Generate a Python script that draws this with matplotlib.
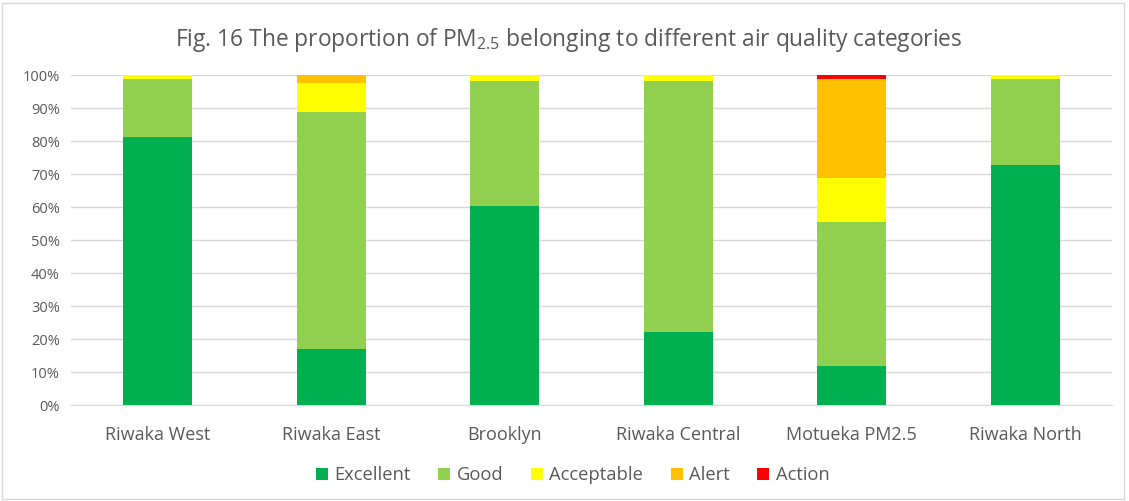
import matplotlib
matplotlib.use("Agg")
import matplotlib.pyplot as plt
from matplotlib.patches import Rectangle
from matplotlib.ticker import PercentFormatter
import numpy as np

# -----------------------
# Data (percent of time)
# -----------------------
sites = ["Riwaka West", "Riwaka East", "Brooklyn", "Riwaka Central", "Motueka PM2.5", "Riwaka North"]
categories = ["Excellent", "Good", "Acceptable", "Alert", "Action"]
colors = ["#00B050", "#92D050", "#FFFF00", "#FFC000", "#FF0000"]

excellent = [81.2, 17.0, 60.3, 22.1, 11.8, 72.7]
good = [17.6, 71.8, 37.9, 76.1, 43.7, 26.2]
acceptable = [1.2, 8.8, 1.8, 1.8, 13.3, 1.1]
alert = [0.0, 2.4, 0.0, 0.0, 29.9, 0.0]
action = [0.0, 0.0, 0.0, 0.0, 1.3, 0.0]

series = [excellent, good, acceptable, alert, action]

FONT = "Open Sans"
TXT = "#595959"
plt.rcParams["font.family"] = [FONT, "DejaVu Sans"]
plt.rcParams["mathtext.fontset"] = "custom"
plt.rcParams["mathtext.rm"] = FONT
plt.rcParams["mathtext.it"] = FONT

fig = plt.figure(figsize=(11.29, 5.01), dpi=100)
ax = fig.add_axes([0.0629, 0.1916, 0.922, 0.6584])

# chart border
fig.patches.append(Rectangle((0.002, 0.004), 0.994, 0.99, transform=fig.transFigure,
                             fill=False, edgecolor="#D9D9D9", linewidth=1))

x = np.arange(len(sites))
bottom = np.zeros(len(sites))
for name, vals, col in zip(categories, series, colors):
    vals = np.array(vals)
    ax.bar(x, vals, width=0.4, bottom=bottom, color=col, label=name, zorder=3)
    bottom += vals

ax.set_xlim(-0.5, len(sites) - 0.5)
ax.set_ylim(0, 100)
ax.set_yticks(np.arange(0, 101, 10))
ax.yaxis.set_major_formatter(PercentFormatter(decimals=0))
ax.set_xticks(x)
ax.set_xticklabels(sites)
ax.tick_params(axis="both", length=0, colors=TXT)
ax.tick_params(axis="x", labelsize=13, pad=15)
ax.tick_params(axis="y", labelsize=10.5, pad=8)

ax.grid(axis="y", color="#D9D9D9", linewidth=1, zorder=0)
for s in ["top", "right", "left"]:
    ax.spines[s].set_visible(False)
ax.spines["bottom"].set_color("#D9D9D9")

fig.text(0.504, 0.92, "Fig. 16 The proportion of PM$_{2.5}$ belonging to different air quality categories",
         ha="center", va="center", fontsize=16.4, color=TXT)

ax.legend(loc="center", bbox_to_anchor=(0.482, -0.213), ncol=5, frameon=False,
          fontsize=13.2, handlelength=0.65, handleheight=0.65, handletextpad=0.35,
          columnspacing=1.5, labelcolor=TXT)

fig.savefig("out.png", dpi=100)
plt.close(fig)
